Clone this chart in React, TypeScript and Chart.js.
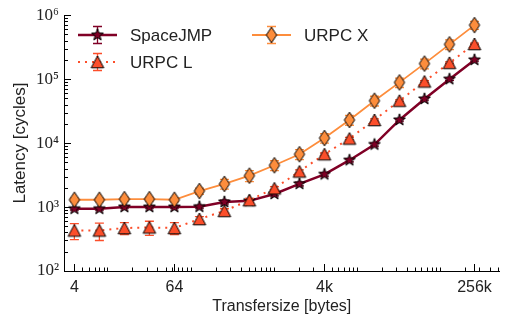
import React, { useEffect, useRef } from 'react';
import { Chart, registerables } from 'chart.js';

Chart.register(...registerables);

// ---- data ----
const transferSizes = [4, 8, 16, 32, 64, 128, 256, 512, 1024, 2048, 4096, 8192, 16384, 32768, 65536, 131072, 262144];
const spaceJMP = [940, 940, 1000, 1000, 1000, 1010, 1200, 1250, 1600, 2300, 3250, 5400, 9500, 23000, 49000, 100000, 200000];
const spaceJMPErr = [40, 40, 40, 40, 40, 50, 80, 80, 100, 150, 200, 300, 500, 1000, 2000, 4000, 8000];
const urpcL = [430, 430, 470, 480, 470, 650, 870, 1280, 1960, 3600, 6700, 11800, 23000, 46000, 92000, 180000, 355000];
const urpcLErr = [120, 130, 100, 120, 100, 60, 70, 90, 120, 200, 300, 500, 900, 1500, 3000, 6000, 10000];
const urpcX = [1300, 1300, 1330, 1330, 1300, 1780, 2300, 3100, 4500, 6700, 12000, 23000, 46000, 89000, 175000, 350000, 700000];
const urpcXErr = [80, 80, 80, 80, 80, 200, 400, 600, 800, 1200, 2000, 4000, 8000, 15000, 30000, 60000, 100000];

const seriesNames = ['SpaceJMP', 'URPC L', 'URPC X'];
const xTickValues = [4, 64, 4096, 262144];
const yTickValues = [1e2, 1e3, 1e4, 1e5, 1e6];
const yTickLabels = ['10²', '10³', '10⁴', '10⁵', '10⁶'];

const C_J = '#800026';
const C_L = '#fc4e2a';
const C_X = '#fd8d3c';
const SANS = '"Liberation Sans", Arial, sans-serif';
const SERIF = '"Liberation Serif", "DejaVu Serif", serif';
const TEXT = '#222';

function fmtX(v: number): string {
  if (v >= 1024) return v / 1024 + 'k';
  return String(v);
}

function makeMarker(kind: string, fill: string): HTMLCanvasElement {
  const c = document.createElement('canvas');
  const w = kind === 'diamond' ? 14 : 16;
  const h = kind === 'diamond' ? 20 : 16;
  c.width = w;
  c.height = h;
  const g = c.getContext('2d')!;
  g.translate(w / 2, h / 2);
  g.beginPath();
  if (kind === 'star') {
    for (let i = 0; i < 10; i++) {
      const r = i % 2 === 0 ? 6.2 : 2.5;
      const a = -Math.PI / 2 + (i * Math.PI) / 5;
      const px = r * Math.cos(a);
      const py = r * Math.sin(a);
      if (i === 0) g.moveTo(px, py);
      else g.lineTo(px, py);
    }
  } else if (kind === 'diamond') {
    g.moveTo(0, -7.8);
    g.lineTo(5.2, 0);
    g.lineTo(0, 7.8);
    g.lineTo(-5.2, 0);
  } else {
    g.moveTo(0, -6);
    g.lineTo(6.3, 5.8);
    g.lineTo(-6.3, 5.8);
  }
  g.closePath();
  g.fillStyle = fill;
  g.fill();
  g.lineWidth = 1;
  g.strokeStyle = '#000';
  g.lineJoin = 'miter';
  g.stroke();
  return c;
}

function drawErr(ctx: CanvasRenderingContext2D, x: number, yTop: number, yBot: number, color: string) {
  ctx.save();
  ctx.strokeStyle = color;
  ctx.lineWidth = 1.3;
  ctx.beginPath();
  ctx.moveTo(x, yTop);
  ctx.lineTo(x, yBot);
  ctx.moveTo(x - 4.5, yTop);
  ctx.lineTo(x + 4.5, yTop);
  ctx.moveTo(x - 4.5, yBot);
  ctx.lineTo(x + 4.5, yBot);
  ctx.stroke();
  ctx.restore();
}

export default function App() {
  const ref = useRef<HTMLCanvasElement>(null);

  useEffect(() => {
    const canvas = ref.current!;
    const mStar = makeMarker('star', C_J);
    const mTri = makeMarker('triangle', C_L);
    const mDia = makeMarker('diamond', C_X);

    const errPlugin = {
      id: 'errbars',
      beforeDatasetDraw(chart: any, args: any) {
        const ds = chart.data.datasets[args.index];
        if (!ds.errors) return;
        const xs = chart.scales.x;
        const ys = chart.scales.y;
        const ctx = chart.ctx;
        ctx.save();
        const a = chart.chartArea;
        ctx.beginPath();
        ctx.rect(a.left, a.top, a.right - a.left, a.bottom - a.top);
        ctx.clip();
        ds.data.forEach((p: any, i: number) => {
          const e = ds.errors[i];
          const x = xs.getPixelForValue(p.x);
          drawErr(ctx, x, ys.getPixelForValue(p.y + e), ys.getPixelForValue(p.y - e), ds.errColor);
        });
        ctx.restore();
      },
    };

    const tickPlugin = {
      id: 'inticks',
      afterDatasetsDraw(chart: any) {
        const ctx = chart.ctx;
        const xs = chart.scales.x;
        const ys = chart.scales.y;
        const a = chart.chartArea;
        ctx.save();
        ctx.strokeStyle = '#000';
        ctx.lineWidth = 1;
        ctx.beginPath();
        // y ticks
        for (let k = 2; k <= 6; k++) {
          for (let m = 1; m <= 9; m++) {
            const v = m * Math.pow(10, k);
            if (v < ys.min || v > ys.max) continue;
            const y = Math.round(ys.getPixelForValue(v)) + 0.5;
            const len = m === 1 ? 7 : 4;
            ctx.moveTo(a.left, y);
            ctx.lineTo(a.left + len, y);
          }
        }
        // x ticks: majors and base-10 minors
        xTickValues.forEach((v) => {
          const x = Math.round(xs.getPixelForValue(v)) + 0.5;
          ctx.moveTo(x, a.bottom);
          ctx.lineTo(x, a.bottom - 7);
        });
        for (let k = 0; k <= 5; k++) {
          for (let m = 1; m <= 9; m++) {
            const v = m * Math.pow(10, k);
            if (v < xs.min || v > xs.max) continue;
            const x = Math.round(xs.getPixelForValue(v)) + 0.5;
            ctx.moveTo(x, a.bottom);
            ctx.lineTo(x, a.bottom - 3.5);
          }
        }
        ctx.stroke();
        ctx.restore();
      },
    };

    const legendPlugin = {
      id: 'customLegend',
      afterDraw(chart: any) {
        const ctx = chart.ctx;
        const items = [
          { name: seriesNames[0], color: C_J, width: 2.5, dash: [] as number[], marker: mStar, lx: 78, y: 35 },
          { name: seriesNames[1], color: C_L, width: 2, dash: [2, 5], marker: mTri, lx: 78, y: 62 },
          { name: seriesNames[2], color: C_X, width: 1.8, dash: [] as number[], marker: mDia, lx: 252, y: 35 },
        ];
        items.forEach((it) => {
          const cx = it.lx + 19.5;
          ctx.save();
          ctx.strokeStyle = it.color;
          ctx.lineWidth = it.width;
          ctx.setLineDash(it.dash);
          ctx.beginPath();
          ctx.moveTo(it.lx, it.y);
          ctx.lineTo(it.lx + 39, it.y);
          ctx.stroke();
          ctx.restore();
          drawErr(ctx, cx, it.y - 8.5, it.y + 8.5, it.color);
          ctx.drawImage(it.marker, cx - it.marker.width / 2, it.y - it.marker.height / 2);
          ctx.save();
          ctx.fillStyle = TEXT;
          ctx.font = '17px ' + SANS;
          ctx.textBaseline = 'middle';
          ctx.textAlign = 'left';
          ctx.fillText(it.name, it.lx + 52, it.y + 1);
          ctx.restore();
        });
      },
    };

    const mk = (vals: number[]) => transferSizes.map((x, i) => ({ x, y: vals[i] }));

    const chart = new Chart(canvas, {
      type: 'line',
      data: {
        datasets: [
          {
            label: seriesNames[0],
            data: mk(spaceJMP),
            errors: spaceJMPErr,
            errColor: C_J,
            borderColor: C_J,
            backgroundColor: C_J,
            borderWidth: 2.5,
            pointStyle: mStar,
            pointRadius: 6,
            order: 2,
          } as any,
          {
            label: seriesNames[1],
            data: mk(urpcL),
            errors: urpcLErr,
            errColor: C_L,
            borderColor: C_L,
            backgroundColor: C_L,
            borderWidth: 2,
            borderDash: [2, 5],
            pointStyle: mTri,
            pointRadius: 6,
            order: 1,
          } as any,
          {
            label: seriesNames[2],
            data: mk(urpcX),
            errors: urpcXErr,
            errColor: C_X,
            borderColor: C_X,
            backgroundColor: C_X,
            borderWidth: 1.8,
            pointStyle: mDia,
            pointRadius: 6,
            order: 0,
          } as any,
        ],
      },
      options: {
        responsive: false,
        animation: false,
        devicePixelRatio: 1,
        layout: { padding: { top: 12, right: 3, left: 0, bottom: 0 } },
        elements: { line: { tension: 0, fill: false } },
        plugins: { legend: { display: false }, tooltip: { enabled: false } },
        scales: {
          x: {
            type: 'logarithmic',
            min: 3,
            max: 524288,
            bounds: 'data',
            afterBuildTicks: (s: any) => {
              s.ticks = xTickValues.map((v) => ({ value: v }));
            },
            afterFit: (s: any) => {
              s.height = 47;
            },
            ticks: {
              callback: (v: any) => fmtX(Number(v)),
              font: { family: SANS, size: 16 },
              color: TEXT,
              padding: 7,
              maxRotation: 0,
              autoSkip: false,
            },
            grid: { drawOnChartArea: false, drawTicks: false },
            border: { color: '#000', width: 1 },
            title: {
              display: true,
              text: 'Transfersize [bytes]',
              font: { family: SANS, size: 16 },
              color: TEXT,
              padding: { top: 0, bottom: 1.5 },
            },
          },
          y: {
            type: 'logarithmic',
            min: 100,
            max: 1e6,
            bounds: 'data',
            afterBuildTicks: (s: any) => {
              s.ticks = yTickValues.map((v) => ({ value: v }));
            },
            afterFit: (s: any) => {
              s.width = 64;
            },
            ticks: {
              callback: (_v: any, i: number) => yTickLabels[i],
              font: { family: SERIF, size: 17 },
              color: TEXT,
              padding: 5,
              autoSkip: false,
            },
            grid: { drawOnChartArea: false, drawTicks: false },
            border: { color: '#000', width: 1 },
            title: {
              display: true,
              text: 'Latency [cycles]',
              font: { family: SANS, size: 17 },
              color: TEXT,
              padding: { top: 10, bottom: 0 },
            },
          },
        },
      } as any,
      plugins: [errPlugin, tickPlugin, legendPlugin],
    });

    return () => chart.destroy();
  }, []);

  return (
    <div style={{ position: 'fixed', left: 0, top: 0, width: 508, height: 318, background: '#fff' }}>
      <canvas ref={ref} width={508} height={318} />
    </div>
  );
}
